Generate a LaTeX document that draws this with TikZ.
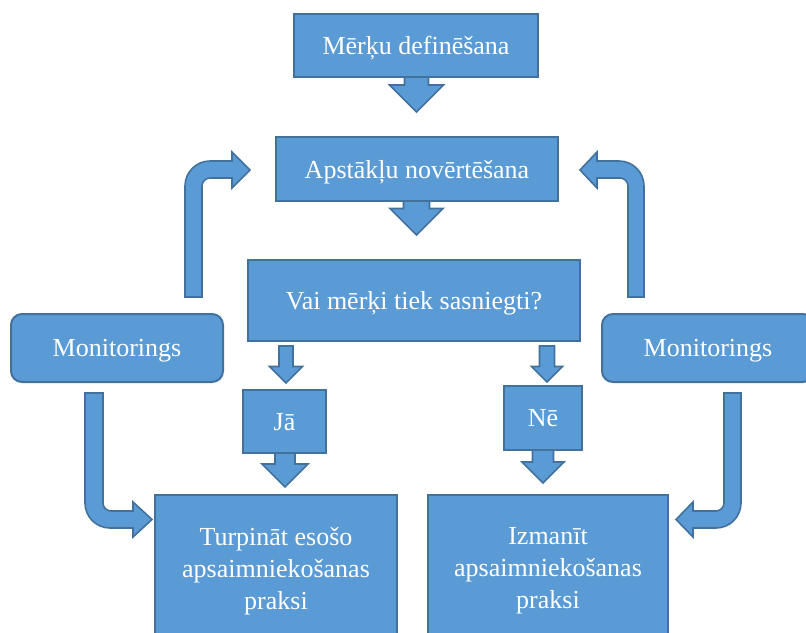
\documentclass[tikz,border=0pt]{standalone}
\usepackage{fontspec}
\setmainfont{Liberation Serif}
\usetikzlibrary{positioning}
\definecolor{bleu}{HTML}{5B9BD5}
\definecolor{bord}{HTML}{41719C}

\begin{document}
\begin{tikzpicture}[x=1pt,y=-1pt,
  boite/.style={draw=bord,fill=bleu,line width=2pt,text=white,font=\fontsize{26}{32}\selectfont,align=center,inner sep=0pt,text depth=0pt},
  fleche/.style={draw=bord,fill=bleu,line width=1.6pt,line join=miter}]
  \useasboundingbox (0,0) rectangle (806,632);
  % straight block arrows: x / top / tip / shaft half / head half
  \foreach \x/\a/\b/\s/\h in {416.5/70/112/12/27, 416.5/195/235/13/26.5, 286/346/383/7/16.5, 285/450/487/10/23, 547/346/382/7.5/15.5, 543/445/483/10.5/21}
    \draw[fleche] ({\x-\s},\a) -- ({\x-\s},{\b-\h}) -- ({\x-\h},{\b-\h}) -- (\x,\b) -- ({\x+\h},{\b-\h}) -- ({\x+\s},{\b-\h}) -- ({\x+\s},\a) -- cycle;
  % bent arrows
  \draw[fleche] (185,297) -- (185,186) .. controls (185,172.2) and (196.2,161) .. (210,161) -- (232,161) -- (232,152) -- (250,170) -- (232,188) -- (232,178) -- (210,178) .. controls (205.6,178) and (202,181.6) .. (202,186) -- (202,297) -- cycle;
  \draw[fleche] (644,297) -- (644,186) .. controls (644,172.2) and (632.8,161) .. (619,161) -- (597,161) -- (597,152) -- (580,170) -- (597,188) -- (597,178) -- (620,178) .. controls (624.4,178) and (628,181.6) .. (628,186) -- (628,297) -- cycle;
  \draw[fleche] (85,393) -- (85,503) .. controls (85,516.8) and (96.2,528) .. (110,528) -- (133,528) -- (133,537) -- (152,519.5) -- (133,502) -- (133,511) -- (111,511) .. controls (106.6,511) and (103,507.4) .. (103,503) -- (103,393) -- cycle;
  \draw[fleche] (741,393) -- (741,503) .. controls (741,516.8) and (729.8,528) .. (716,528) -- (693,528) -- (693,537) -- (676,519.5) -- (693,502) -- (693,511) -- (716,511) .. controls (720.4,511) and (724,507.4) .. (724,503) -- (724,393) -- cycle;
  % boxes
  \node[boite,minimum width=244pt,minimum height=63pt] (buts) at (416,45.5) {Mērķu definēšana};
  \node[boite,minimum width=282pt,minimum height=64pt] (apst) at (417,169) {Apstākļu novērtēšana};
  \node[boite,minimum width=332pt,minimum height=81pt] (vai) at (414,300.5) {Vai mērķi tiek sasniegti?};
  \node[boite,minimum width=83pt,minimum height=63pt] (ja) at (284.5,421.5) {Jā};
  \node[boite,minimum width=78pt,minimum height=64pt] (ne) at (543,418) {Nē};
  \node[boite,rounded corners=11pt,minimum width=212pt,minimum height=68pt] (monk) at (117,348) {Monitorings};
  \node[boite,rounded corners=11pt,minimum width=212pt,minimum height=68pt] (mond) at (708,348) {Monitorings};
  \node[boite,minimum width=242pt,minimum height=146pt] (turp) at (276,568) {Turpināt esošo\\apsaimniekošanas\\praksi};
  \node[boite,minimum width=240pt,minimum height=146pt] (izm) at (548,568) {Izmanīt\\apsaimniekošanas\\praksi};
\end{tikzpicture}
\end{document}
